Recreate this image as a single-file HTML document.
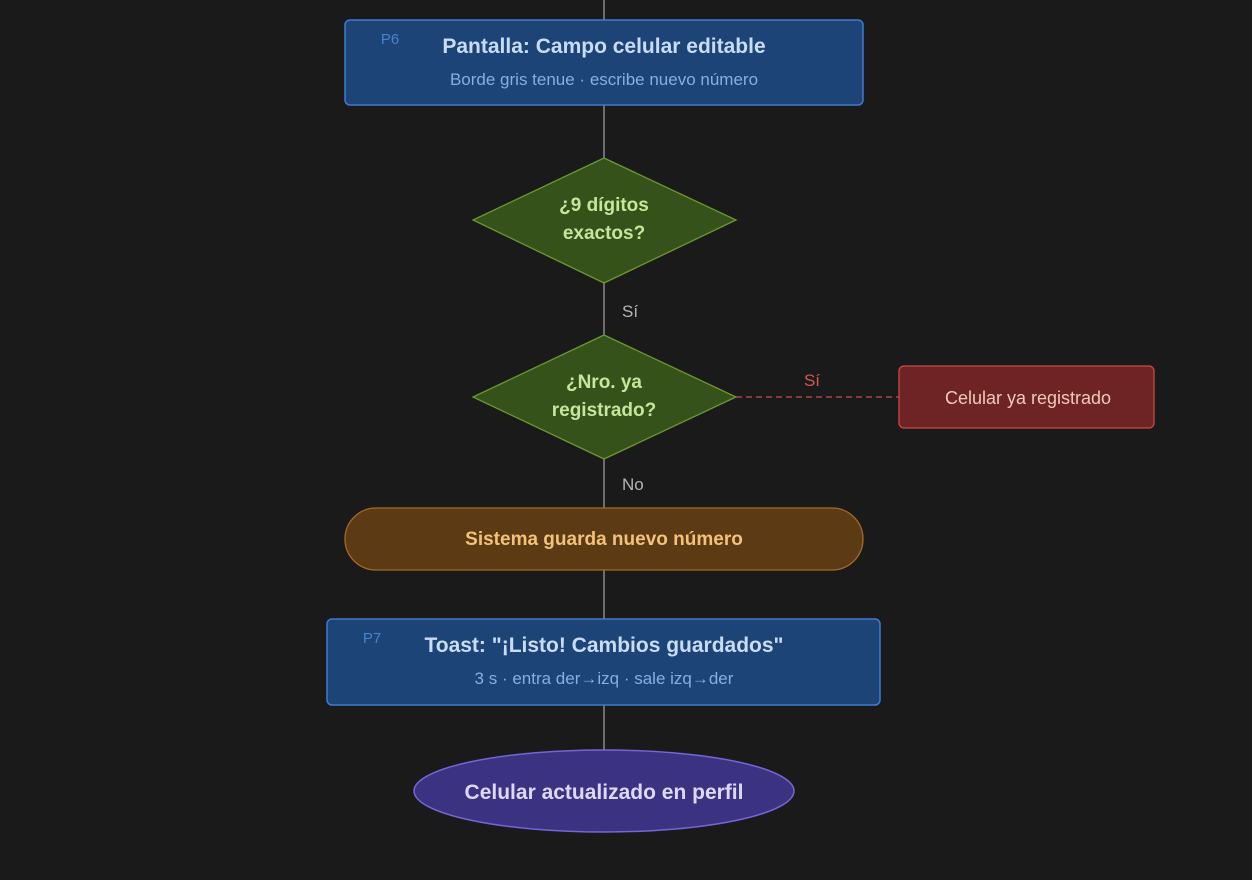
<!DOCTYPE html>
<html><head><meta charset="utf-8"><style>
html,body{margin:0;padding:0;background:#1a1a1a;}
svg{display:block;font-family:"Liberation Sans","DejaVu Sans",sans-serif;}
</style></head><body>
<svg width="1252" height="880" viewBox="0 0 1252 880" xmlns="http://www.w3.org/2000/svg">
<rect width="1252" height="880" fill="#1a1a1a"/>
<g stroke="#8a8a8a" stroke-width="1.5">
<line x1="604" y1="0" x2="604" y2="20"/>
<line x1="604" y1="105" x2="604" y2="158"/>
<line x1="604" y1="283" x2="604" y2="335"/>
<line x1="604" y1="459" x2="604" y2="508"/>
<line x1="604" y1="570" x2="604" y2="619"/>
<line x1="604" y1="705" x2="604" y2="750"/>
</g>
<line x1="736" y1="397" x2="899" y2="397" stroke="#c05050" stroke-width="1.3" stroke-dasharray="6,4"/>
<text x="812" y="386" fill="#d05a50" font-size="17" text-anchor="middle">Sí</text>
<text x="622" y="317" fill="#b5b5b5" font-size="17">Sí</text>
<text x="622" y="490" fill="#b5b5b5" font-size="17">No</text>

<rect x="345" y="20" width="518" height="85" rx="5" fill="#1d4477" stroke="#3f7ad0" stroke-width="1.5"/>
<text x="390" y="44" fill="#4a80cf" font-size="15" text-anchor="middle">P6</text>
<text x="604" y="53" fill="#c8dcf8" font-size="21" font-weight="bold" text-anchor="middle">Pantalla: Campo celular editable</text>
<text x="604" y="85" fill="#86aee4" font-size="17" text-anchor="middle">Borde gris tenue · escribe nuevo número</text>

<polygon points="604,158 736,220 604,283 473,220" fill="#34521a" stroke="#6a9a30" stroke-width="1.3"/>
<text x="604" y="211" fill="#c7e59b" font-size="19" font-weight="bold" text-anchor="middle">¿9 dígitos</text>
<text x="604" y="239" fill="#c7e59b" font-size="19" font-weight="bold" text-anchor="middle">exactos?</text>

<polygon points="604,335 736,397 604,459 473,397" fill="#34521a" stroke="#6a9a30" stroke-width="1.3"/>
<text x="604" y="388" fill="#c7e59b" font-size="19" font-weight="bold" text-anchor="middle">¿Nro. ya</text>
<text x="604" y="416" fill="#c7e59b" font-size="19" font-weight="bold" text-anchor="middle">registrado?</text>

<rect x="899" y="366" width="255" height="62" rx="5" fill="#6e2424" stroke="#c84a44" stroke-width="1.3"/>
<text x="1028" y="404" fill="#f0c9b8" font-size="18" text-anchor="middle">Celular ya registrado</text>

<rect x="345" y="508" width="518" height="62" rx="31" fill="#5c3a14" stroke="#a56b24" stroke-width="1.3"/>
<text x="604" y="545" fill="#f2c27a" font-size="19" font-weight="bold" text-anchor="middle">Sistema guarda nuevo número</text>

<rect x="327" y="619" width="553" height="86" rx="5" fill="#1d4477" stroke="#3f7ad0" stroke-width="1.5"/>
<text x="372" y="643" fill="#4a80cf" font-size="15" text-anchor="middle">P7</text>
<text x="604" y="652" fill="#c8dcf8" font-size="21" font-weight="bold" text-anchor="middle">Toast: "¡Listo! Cambios guardados"</text>
<text x="604" y="684" fill="#86aee4" font-size="17" text-anchor="middle">3 s · entra der→izq · sale izq→der</text>

<ellipse cx="604" cy="791" rx="190" ry="41" fill="#3b3282" stroke="#7466d4" stroke-width="1.5"/>
<text x="604" y="799" fill="#ddd8fa" font-size="21" font-weight="bold" text-anchor="middle">Celular actualizado en perfil</text>
</svg>
</body></html>
